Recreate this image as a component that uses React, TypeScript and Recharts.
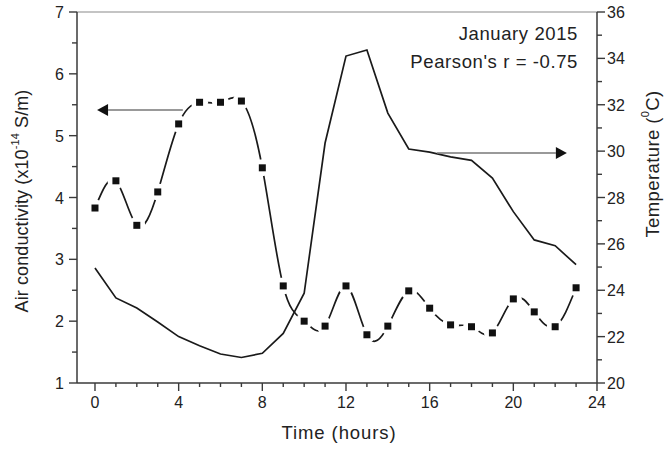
import React from 'react';
import { LineChart, Line, XAxis, YAxis, ReferenceLine, Customized } from 'recharts';

const hours = [0, 1, 2, 3, 4, 5, 6, 7, 8, 9, 10, 11, 12, 13, 14, 15, 16, 17, 18, 19, 20, 21, 22, 23];
const conductivity = [3.83, 4.27, 3.55, 4.09, 5.19, 5.54, 5.54, 5.56, 4.48, 2.57, 2.0, 1.92, 2.57, 1.78, 1.92, 2.49, 2.21, 1.94, 1.91, 1.81, 2.36, 2.15, 1.91, 2.54];
const temperature = [24.96, 23.67, 23.23, 22.63, 22.0, 21.61, 21.25, 21.1, 21.28, 22.14, 23.87, 30.35, 34.1, 34.36, 31.64, 30.09, 29.96, 29.75, 29.6, 28.84, 27.39, 26.17, 25.92, 25.1];

const xTicks = [0, 1, 2, 3, 4, 5, 6, 7, 8, 9, 10, 11, 12, 13, 14, 15, 16, 17, 18, 19, 20, 21, 22, 23, 24];
const leftTicks = [1, 1.5, 2, 2.5, 3, 3.5, 4, 4.5, 5, 5.5, 6, 6.5, 7];
const rightTicks = [20, 21, 22, 23, 24, 25, 26, 27, 28, 29, 30, 31, 32, 33, 34, 35, 36];

const leftArrow = [{ x: 4.2, y: 5.415 }, { x: 0.1, y: 5.415 }];
const rightArrow = [{ x: 16.35, y: 29.92 }, { x: 22.56, y: 29.92 }];

const data = hours.map((h, i) => ({ hour: h, cond: conductivity[i], temp: temperature[i] }));

const FONT = '"Liberation Sans", Arial, sans-serif';
const AX = '#3a3a3a';
const TXT = '#222';

const XTick = (props: any) => {
  const { x, y, payload } = props;
  const major = payload.value % 4 === 0;
  return (
    <g>
      <line x1={x} y1={y} x2={x} y2={y + (major ? 8 : 4)} stroke={AX} strokeWidth={1.4} />
      {major && (
        <text x={x} y={y + 25} textAnchor="middle" fontSize={16} fontFamily={FONT} fill={TXT}>
          {payload.value}
        </text>
      )}
    </g>
  );
};

const LeftTick = (props: any) => {
  const { x, y, payload } = props;
  const major = Number.isInteger(payload.value);
  return (
    <g>
      <line x1={x} y1={y} x2={x - (major ? 8 : 5)} y2={y} stroke={AX} strokeWidth={1.4} />
      {major && (
        <text x={x - 13} y={y + 6} textAnchor="end" fontSize={16} fontFamily={FONT} fill={TXT}>
          {payload.value}
        </text>
      )}
    </g>
  );
};

const RightTick = (props: any) => {
  const { x, y, payload } = props;
  const major = payload.value % 2 === 0;
  return (
    <g>
      <line x1={x} y1={y} x2={x + (major ? 8 : 5)} y2={y} stroke={AX} strokeWidth={1.4} />
      {major && (
        <text x={x + 10} y={y + 6} textAnchor="start" fontSize={16} fontFamily={FONT} fill={TXT}>
          {payload.value}
        </text>
      )}
    </g>
  );
};

const SquareDot = (props: any) => {
  const { cx, cy, index } = props;
  if (cx == null || cy == null) return <g key={index} />;
  return (
    <g key={index}>
      <circle cx={cx} cy={cy} r={8.5} fill="#fff" />
      <rect x={cx - 3.5} y={cy - 3.5} width={7} height={7} fill="#111" />
    </g>
  );
};

const Arrow = (props: any) => {
  const { x1, y1, x2, y2 } = props;
  const dx = x2 - x1;
  const dy = y2 - y1;
  const len = Math.sqrt(dx * dx + dy * dy) || 1;
  const ux = dx / len;
  const uy = dy / len;
  const hl = 11;
  const hw = 6;
  const bx = x2 - ux * hl;
  const by = y2 - uy * hl;
  const pts = `${x2},${y2} ${bx - uy * hw},${by + ux * hw} ${bx + uy * hw},${by - ux * hw}`;
  return (
    <g>
      <line x1={x1} y1={y1} x2={bx} y2={by} stroke="#777" strokeWidth={1.3} />
      <polygon points={pts} fill="#111" />
    </g>
  );
};

const Texts = () => (
  <g fontFamily={FONT} fill={TXT}>
    <text x={578} y={40} textAnchor="end" fontSize={18.5} letterSpacing={0.6}>January 2015</text>
    <text x={578} y={68} textAnchor="end" fontSize={18.5} letterSpacing={0.6}>Pearson's r = -0.75</text>
    <text x={339} y={439} textAnchor="middle" fontSize={18.5} letterSpacing={0.9}>Time (hours)</text>
    <text
      x={22}
      y={201}
      textAnchor="middle"
      dominantBaseline="central"
      fontSize={18}
      letterSpacing={0.1}
      transform="rotate(-90, 22, 201)"
    >
      Air conductivity (x10
      <tspan fontSize={11} dy={-7}>-14</tspan>
      <tspan dy={7}> S/m)</tspan>
    </text>
    <text
      x={652}
      y={164}
      textAnchor="middle"
      dominantBaseline="central"
      fontSize={18.5}
      letterSpacing={0.4}
      transform="rotate(-90, 652, 164)"
    >
      Temperature (
      <tspan fontSize={11} dy={-7}>0</tspan>
      <tspan dy={7}>C)</tspan>
    </text>
  </g>
);

export default function App() {
  return (
    <div style={{ position: 'absolute', left: 0, top: 0, background: '#fff' }}>
      <LineChart
        width={665}
        height={451}
        data={data}
        margin={{ top: 12, right: 0, bottom: 0, left: 0 }}
      >
        <XAxis
          dataKey="hour"
          type="number"
          domain={[-0.86, 24]}
          ticks={xTicks}
          interval={0}
          allowDataOverflow
          height={68}
          tickSize={0}
          tickMargin={0}
          tickLine={false}
          tick={<XTick />}
          axisLine={{ stroke: AX, strokeWidth: 1.5 }}
        />
        <YAxis
          yAxisId="left"
          orientation="left"
          domain={[1, 7]}
          ticks={leftTicks}
          interval={0}
          width={77}
          tickSize={0}
          tickMargin={0}
          tickLine={false}
          tick={<LeftTick />}
          axisLine={{ stroke: AX, strokeWidth: 1.5 }}
        />
        <YAxis
          yAxisId="right"
          orientation="right"
          domain={[20, 36]}
          ticks={rightTicks}
          interval={0}
          width={68}
          tickSize={0}
          tickMargin={0}
          tickLine={false}
          tick={<RightTick />}
          axisLine={{ stroke: AX, strokeWidth: 1.5 }}
        />
        <ReferenceLine yAxisId="left" y={7} stroke="#8a8a8a" strokeWidth={1.2} />
        <Line
          yAxisId="left"
          dataKey="cond"
          type="natural"
          stroke="#1a1a1a"
          strokeWidth={1.7}
          dot={<SquareDot />}
          activeDot={false}
          isAnimationActive={false}
        />
        <Line
          yAxisId="right"
          dataKey="temp"
          type="linear"
          stroke="#1a1a1a"
          strokeWidth={1.7}
          dot={false}
          activeDot={false}
          isAnimationActive={false}
        />
        <ReferenceLine yAxisId="left" segment={leftArrow} shape={<Arrow />} />
        <ReferenceLine yAxisId="right" segment={rightArrow} shape={<Arrow />} />
        <Customized component={<Texts />} />
      </LineChart>
    </div>
  );
}
